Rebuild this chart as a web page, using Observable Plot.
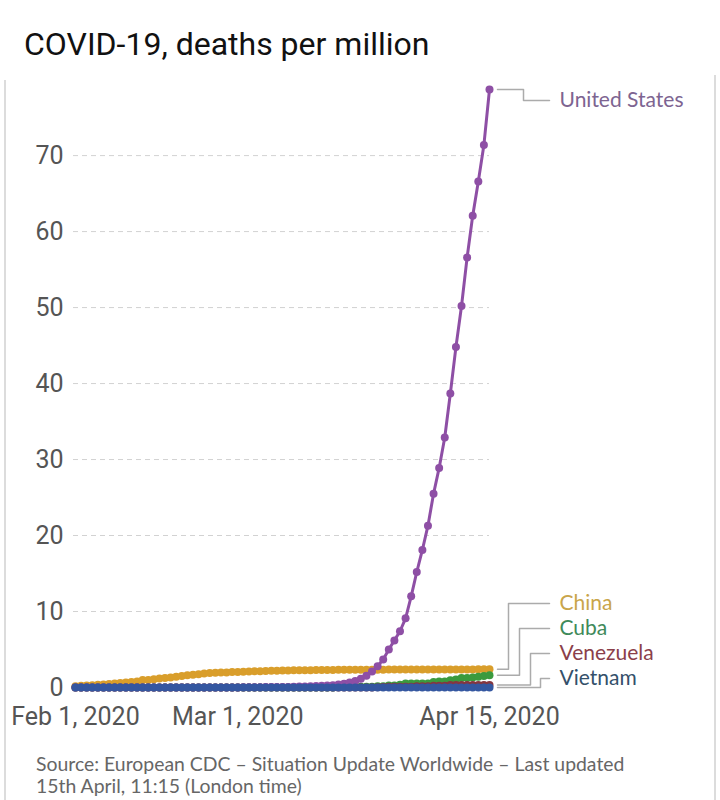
<!DOCTYPE html>
<html><head><meta charset="utf-8">
<script src="https://cdn.jsdelivr.net/npm/d3@7"></script>
<script src="https://cdn.jsdelivr.net/npm/@observablehq/plot@0.6"></script>
<style>
html,body{margin:0;padding:0;background:#fff;width:720px;height:800px;overflow:hidden;}
#title{position:absolute;left:24px;top:28px;font:400 32px/32px Roboto, sans-serif;color:#111;white-space:nowrap;}
#card-l{position:absolute;left:4px;top:80px;width:2px;height:720px;background:#dcdcdc;}
#card-r{position:absolute;left:714px;top:75px;width:2px;height:725px;background:#dcdcdc;}
#chart{position:absolute;left:0;top:75px;}
#caption{position:absolute;left:36px;top:753px;font:400 19.4px/22px Lato, sans-serif;color:#666;white-space:nowrap;}
</style></head><body>
<div id="title">COVID-19, deaths per million</div>
<div id="card-l"></div><div id="card-r"></div>
<div id="chart"></div>
<div id="caption">Source: European CDC – Situation Update Worldwide – Last updated<br>15th April, 11:15 (London time)<br>OurWorldInData.org/coronavirus • CC BY</div>
<script>
// ---- data (deaths per million, daily, Feb 1 – Apr 15, 2020) ----
const startDate = "2020-02-01";
const endDate = "2020-04-15";
const countries = ["United States", "China", "Cuba", "Venezuela", "Vietnam"];

const unitedStates = [
  0,0,0,0,0,0,0,0,0,0, 0,0,0,0,0,0,0,0,0,0, 0,0,0,0,0,0,0,0,0,
  0.003,0.02,0.03,0.03,0.04,0.05,0.06,0.06,0.07,0.08,
  0.1,0.12,0.14,0.16,0.19,0.22,0.26,0.3,0.38,0.5,
  0.65,0.85,1.15,1.55,2.1,2.8,3.7,5.0,6.2,7.4,9.1,
  12.0,15.2,18.1,21.3,25.5,28.9,32.9,38.7,44.8,50.2,56.6,62.1,66.6,71.4,78.7
];
const china = [
  0.18,0.22,0.26,0.30,0.35,0.40,0.45,0.52,0.58,0.65,
  0.73,0.80,0.98,0.99,1.09,1.19,1.26,1.33,1.43,1.51,
  1.60,1.68,1.74,1.85,1.90,1.94,1.96,1.99,2.03,
  2.05,2.08,2.10,2.13,2.15,2.17,2.19,2.21,2.23,2.24,
  2.26,2.26,2.27,2.28,2.29,2.30,2.30,2.31,2.32,2.32,
  2.32,2.33,2.34,2.34,2.35,2.35,2.35,2.36,2.36,2.36,2.36,
  2.37,2.37,2.37,2.37,2.37,2.38,2.38,2.38,2.38,2.38,2.38,2.38,2.39,2.39,2.39
];
const cuba = [
  0,0,0,0,0,0,0,0,0,0, 0,0,0,0,0,0,0,0,0,0, 0,0,0,0,0,0,0,0,0,
  0,0,0,0,0,0,0,0,0,0, 0,0,0,0,0,0,0,0,
  0.09,0.09,0.09,0.09,0.09,0.09,0.09,0.18,0.18,0.26,0.26,0.35,0.53,
  0.53,0.53,0.53,0.53,0.71,0.79,0.79,0.97,1.06,1.24,1.24,1.32,1.41,1.5,1.6
];
const venezuela = [
  0,0,0,0,0,0,0,0,0,0, 0,0,0,0,0,0,0,0,0,0, 0,0,0,0,0,0,0,0,0,
  0,0,0,0,0,0,0,0,0,0, 0,0,0,0,0,0,0,0,0,0, 0,0,0,0,0,
  0.035,0.07,0.105,0.105,0.105,0.105,
  0.105,0.175,0.175,0.175,0.245,0.245,0.245,0.316,0.316,0.316,0.316,0.316,0.316,0.316,0.316
];
const vietnam = [
  0,0,0,0,0,0,0,0,0,0, 0,0,0,0,0,0,0,0,0,0, 0,0,0,0,0,0,0,0,0,
  0,0,0,0,0,0,0,0,0,0, 0,0,0,0,0,0,0,0,0,0, 0,0,0,0,0,0,0,0,0,0,0,
  0,0,0,0,0,0,0,0,0,0,0,0,0,0,0
];
const xTickLabels = ["2020-02-01", "2020-03-01", "2020-04-15"];
const yTicks = [0, 10, 20, 30, 40, 50, 60, 70];

// ---- styles ----
const lineColors  = {"United States":"#8e4fa5", "China":"#d99e2b", "Cuba":"#3b9a3e", "Venezuela":"#86363f", "Vietnam":"#3457a0"};
const labelColors = {"United States":"#7d6491", "China":"#c9a54a", "Cuba":"#3f8a5a", "Venezuela":"#8b3f4a", "Vietnam":"#34506a"};
const elbowPx     = {"United States":34, "China":19, "Cuba":30, "Venezuela":41, "Vietnam":51};
const drawOrder = ["China", "Cuba", "Venezuela", "United States", "Vietnam"];

const valuesBy = {"United States":unitedStates, "China":china, "Cuba":cuba, "Venezuela":venezuela, "Vietnam":vietnam};
const dates = d3.utcDay.range(new Date(startDate), d3.utcDay.offset(new Date(endDate), 1));
const rows = countries.flatMap(c => valuesBy[c].map((v, i) => ({country: c, date: dates[i], value: v})));

const W = 720, H = 680, mL = 75, mR = 231, mT = 14, mB = 68;
const yMax = d3.max(unitedStates);
const plotW = W - mL - mR, plotH = H - mT - mB;
const lastDate = dates[dates.length - 1];
const pxPerMs = plotW / (lastDate - dates[0]);
const pxPerUnit = plotH / yMax;
const xAt = px => new Date(+lastDate + px / pxPerMs);

// label placement (dodge upward from the bottom)
const ends = countries.map(c => ({country: c, value: valuesBy[c][valuesBy[c].length - 1]}))
  .sort((a, b) => a.value - b.value);
let prev = Infinity;
for (const e of ends) {
  const endPx = (yMax - e.value) * pxPerUnit;
  let lp = Math.min(endPx - 9, prev - 25);
  lp = Math.max(lp, 11);
  prev = lp;
  e.labelValue = yMax - lp / pxPerUnit;
}
const conn = ends.flatMap(e => [
  {country: e.country, x: xAt(8), y: e.value},
  {country: e.country, x: xAt(elbowPx[e.country]), y: e.value},
  {country: e.country, x: xAt(elbowPx[e.country]), y: e.labelValue},
  {country: e.country, x: xAt(60), y: e.labelValue}
]);

const marks = [
  Plot.ruleY(yTicks.filter(t => t > 0), {stroke: "#d2d2d2", strokeWidth: 1, strokeDasharray: "5,4", insetLeft: -2}),
  Plot.axisY({ticks: yTicks, tickSize: 0, tickPadding: 12, label: null}),
  Plot.axisX({ticks: xTickLabels.map(d => new Date(d)), tickFormat: d3.utcFormat("%b %-d, %Y"), tickSize: 0, tickPadding: 20, label: null}),
  Plot.line(conn, {x: "x", y: "y", z: "country", stroke: "#ababab", strokeWidth: 1.5})
];
for (const c of drawOrder) {
  const data = rows.filter(r => r.country === c);
  marks.push(Plot.line(data, {x: "date", y: "value", stroke: lineColors[c], strokeWidth: 3}));
  marks.push(Plot.dot(data, {x: "date", y: "value", r: 4, fill: lineColors[c], stroke: "none"}));
}
for (const e of ends) {
  marks.push(Plot.text([e], {x: () => xAt(70), y: "labelValue", text: "country", textAnchor: "start",
    fill: labelColors[e.country], fontSize: 21, fontFamily: "Lato"}));
}

const chart = Plot.plot({
  width: W, height: H,
  marginLeft: mL, marginRight: mR, marginTop: mT, marginBottom: mB,
  x: {type: "utc", domain: [dates[0], lastDate]},
  y: {domain: [0, yMax]},
  style: {fontFamily: "Roboto, sans-serif", fontSize: "25px", color: "#555", background: "transparent", overflow: "visible"},
  marks
});
document.getElementById("chart").appendChild(chart);
</script>
</body></html>
